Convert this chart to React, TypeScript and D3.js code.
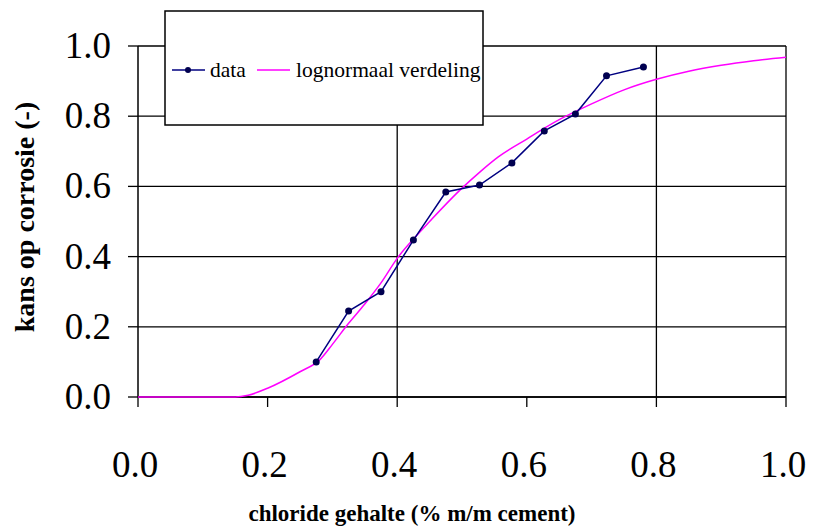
import React from "react";
import * as d3 from "d3";

const dataX = [0.275, 0.325, 0.375, 0.425, 0.475, 0.527, 0.577, 0.627, 0.675, 0.723, 0.78];
const dataY = [0.10, 0.245, 0.30, 0.447, 0.584, 0.604, 0.667, 0.758, 0.806, 0.915, 0.94];

const curveX = [0.0, 0.05, 0.1, 0.15, 0.17, 0.2, 0.25, 0.28, 0.3, 0.325, 0.35, 0.375, 0.4, 0.425, 0.45, 0.5, 0.527, 0.556, 0.6, 0.65, 0.7, 0.75, 0.8, 0.85, 0.9, 0.95, 1.0];
const curveY = [0.0, 0.0, 0.0, 0.0, 0.005, 0.025, 0.072, 0.105, 0.15, 0.21, 0.265, 0.325, 0.395, 0.45, 0.50, 0.595, 0.64, 0.684, 0.735, 0.79, 0.835, 0.875, 0.905, 0.928, 0.945, 0.958, 0.968];

const xTicks = [0.0, 0.2, 0.4, 0.6, 0.8, 1.0];
const yTicks = [0.0, 0.2, 0.4, 0.6, 0.8, 1.0];
const xGrid = [0.4, 0.8, 1.0];

const yTitle = "kans op corrosie (-)";
const xTitle = "chloride gehalte (% m/m cement)";
const legendLabels = ["data", "lognormaal verdeling"];

const SERIF = "Liberation Serif";

export default function App() {
  const W = 814, H = 526;
  const x = d3.scaleLinear().domain([0, 1]).range([138, 786]);
  const y = d3.scaleLinear().domain([0, 1]).range([397, 46]);

  const dataLine = d3.line<number>().x((_, i) => x(dataX[i])).y((_, i) => y(dataY[i]))(dataX.map((_, i) => i)) || "";
  const curveLine = d3.line<number>().x((_, i) => x(curveX[i])).y((_, i) => y(curveY[i])).curve(d3.curveMonotoneX)(curveX.map((_, i) => i)) || "";

  return (
    <svg width={W} height={H} style={{ position: "absolute", left: 0, top: 0 }}>
      <rect x={0} y={0} width={W} height={H} fill="#fff" />
      {yTicks.map((t) => (
        <line key={"hy" + t} x1={x(0)} x2={x(1)} y1={y(t)} y2={y(t)} stroke="#000" strokeWidth={1.3} />
      ))}
      {xGrid.map((t) => (
        <line key={"vx" + t} x1={x(t)} x2={x(t)} y1={y(0)} y2={y(1)} stroke="#000" strokeWidth={1.3} />
      ))}
      <line x1={x(0)} x2={x(0)} y1={y(0)} y2={y(1)} stroke="#000" strokeWidth={1.5} />
      {yTicks.map((t) => (
        <g key={"yt" + t}>
          <line x1={x(0) - 10} x2={x(0)} y1={y(t)} y2={y(t)} stroke="#000" strokeWidth={1.3} />
          <text x={111} y={y(t) + 12} textAnchor="end" fontSize={37} fill="#000" style={{ fontFamily: SERIF }}>{t.toFixed(1)}</text>
        </g>
      ))}
      <line x1={x(0)} x2={x(1)} y1={y(0)} y2={y(0)} stroke="#000" strokeWidth={1.5} />
      {xTicks.map((t) => (
        <g key={"xt" + t}>
          <line x1={x(t)} x2={x(t)} y1={y(0)} y2={y(0) + 10} stroke="#000" strokeWidth={1.3} />
          <text x={x(t) - 3} y={477} textAnchor="middle" fontSize={37} fill="#000" style={{ fontFamily: SERIF }}>{t.toFixed(1)}</text>
        </g>
      ))}
      <path d={curveLine} fill="none" stroke="#ff00ff" strokeWidth={1.5} />
      <path d={dataLine} fill="none" stroke="#000080" strokeWidth={1.5} />
      {dataX.map((v, i) => (
        <circle key={"p" + i} cx={x(v)} cy={y(dataY[i])} r={3.5} fill="#000050" />
      ))}
      <text transform={`translate(34,217) rotate(-90)`} textAnchor="middle" fontSize={28} fontWeight="bold" fill="#000" style={{ fontFamily: SERIF }}>{yTitle}</text>
      <text x={412} y={521} textAnchor="middle" fontSize={23} fontWeight="bold" fill="#000" style={{ fontFamily: SERIF }}>{xTitle}</text>
      <rect x={165} y={11} width={318} height={114} fill="#fff" stroke="#000" strokeWidth={1.5} />
      <line x1={172} x2={205} y1={70} y2={70} stroke="#000080" strokeWidth={1.5} />
      <circle cx={188} cy={70} r={3} fill="#000050" />
      <text x={210} y={77} fontSize={21.5} fill="#000" style={{ fontFamily: SERIF }}>{legendLabels[0]}</text>
      <line x1={257} x2={290} y1={70} y2={70} stroke="#ff00ff" strokeWidth={1.5} />
      <text x={296} y={77} fontSize={21.5} fill="#000" style={{ fontFamily: SERIF }}>{legendLabels[1]}</text>
    </svg>
  );
}
